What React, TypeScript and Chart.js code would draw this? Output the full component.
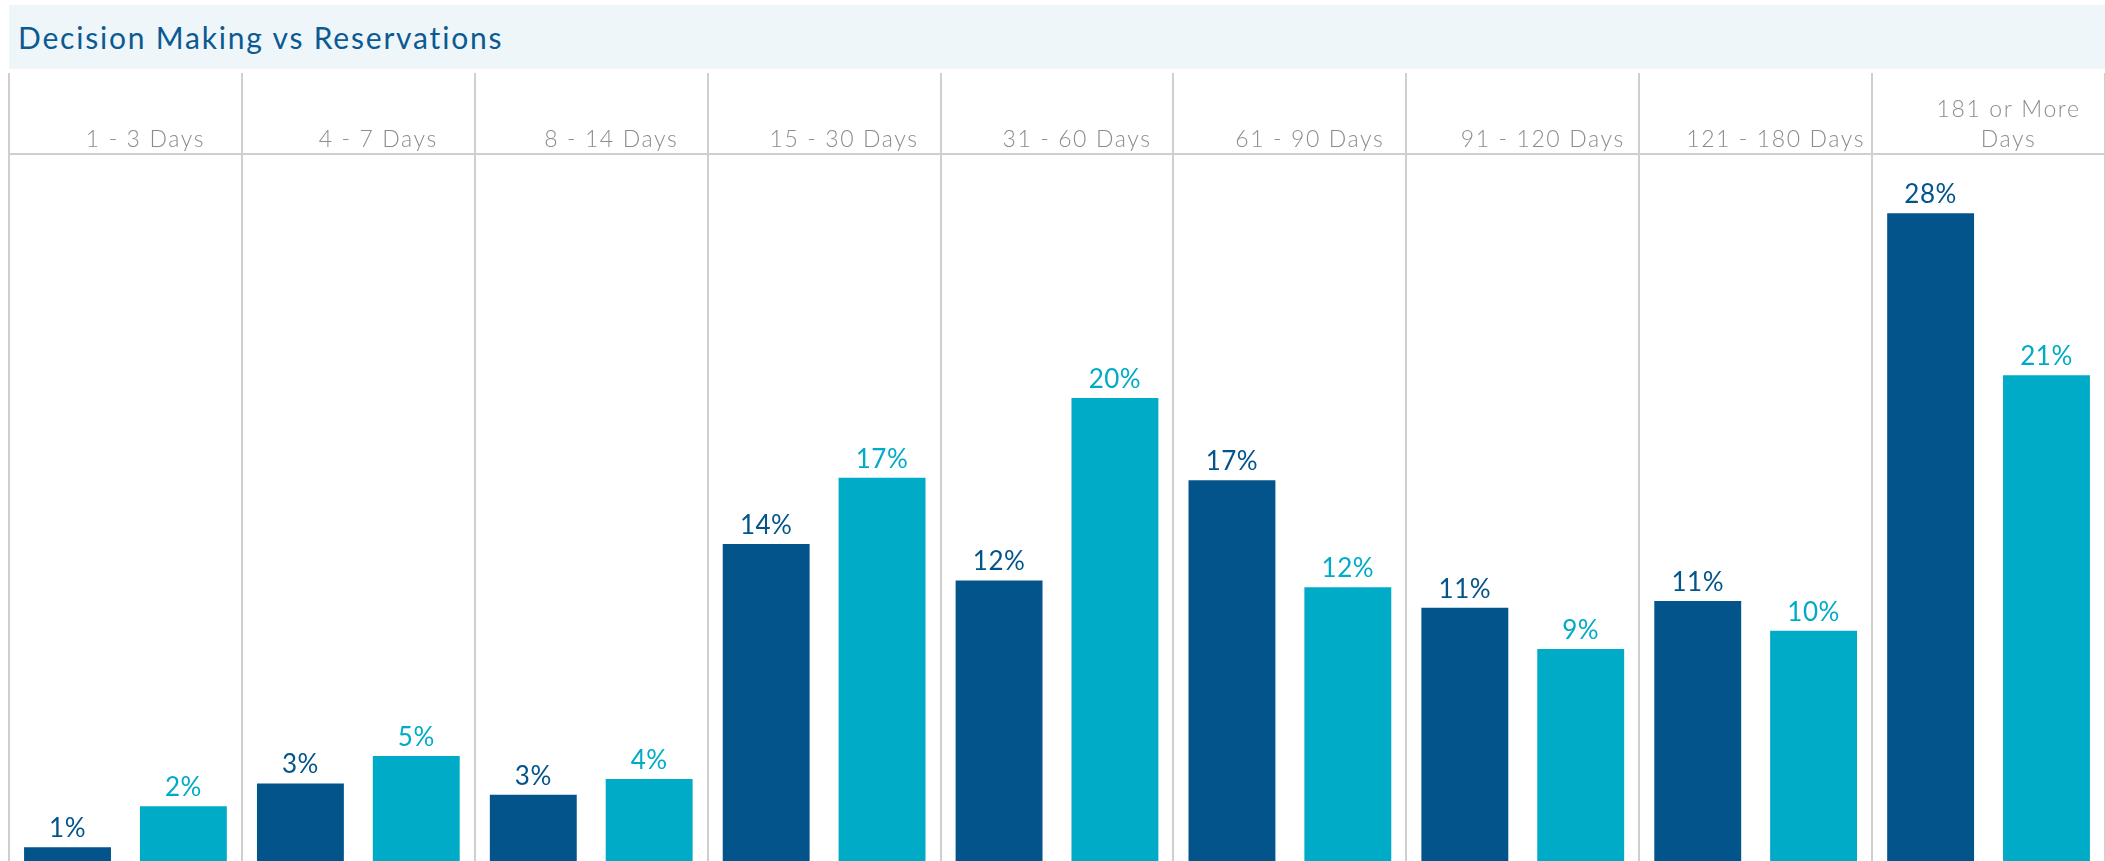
import React, { useEffect, useRef } from "react";
import { Chart, registerables } from "chart.js";

Chart.register(...registerables);

const TITLE = "Decision Making vs Reservations";
const categories: (string | string[])[] = [
  "1 - 3 Days",
  "4 - 7 Days",
  "8 - 14 Days",
  "15 - 30 Days",
  "31 - 60 Days",
  "61 - 90 Days",
  "91 - 120 Days",
  "121 - 180 Days",
  ["181 or More", "Days"],
];
const seriesNames = ["Decision Making", "Reservations"];
const decisionMaking = [0.6, 3.4, 2.9, 13.9, 12.3, 16.7, 11.1, 11.4, 28.4];
const reservations = [2.4, 4.6, 3.6, 16.8, 20.3, 12.0, 9.3, 10.1, 21.3];
const colors = ["#02548B", "#00ABC7"];

const FONT = "Lato, 'Open Sans', sans-serif";

const tickSpacing = {
  id: "tickSpacing",
  beforeDraw(chart: any) {
    chart.ctx.letterSpacing = "1.6px";
  },
};

const valueLabels = {
  id: "valueLabels",
  afterDatasetsDraw(chart: any) {
    const ctx = chart.ctx;
    ctx.save();
    ctx.letterSpacing = "0.5px";
    ctx.font = `400 26px ${FONT}`;
    ctx.textAlign = "center";
    ctx.textBaseline = "alphabetic";
    chart.data.datasets.forEach((ds: any, di: number) => {
      const meta = chart.getDatasetMeta(di);
      ctx.fillStyle = ds.backgroundColor;
      meta.data.forEach((bar: any, i: number) => {
        const v = ds.data[i];
        ctx.fillText(Math.round(v) + "%", bar.x, bar.y - 10);
      });
    });
    ctx.restore();
  },
};

export default function App() {
  const ref = useRef<HTMLCanvasElement>(null);
  useEffect(() => {
    if (!ref.current) return;
    const chart = new Chart(ref.current, {
      type: "bar",
      data: {
        labels: categories,
        datasets: [
          { label: seriesNames[0], data: decisionMaking, backgroundColor: colors[0] },
          { label: seriesNames[1], data: reservations, backgroundColor: colors[1] },
        ],
      },
      options: {
        animation: false,
        responsive: false,
        devicePixelRatio: 1,
        layout: { padding: { left: 9, right: 0, top: 73, bottom: 0 } },
        datasets: { bar: { categoryPercentage: 0.995, barPercentage: 0.75 } },
        plugins: { legend: { display: false }, title: { display: false }, tooltip: { enabled: false } },
        scales: {
          x: {
            position: "top",
            offset: true,
            grid: { offset: true, color: "#cfcfcf", lineWidth: 2, tickLength: 81, drawTicks: true },
            border: { display: true, color: "#cfcfcf", width: 2 },
            ticks: {
              color: "#8c8c8c",
              font: { family: FONT, size: 23, weight: "300", lineHeight: 30 / 23 },
              padding: -82,
              labelOffset: 20,
              maxRotation: 0,
              minRotation: 0,
              autoSkip: false,
            },
            afterFit(scale: any) {
              scale.height = 81;
            },
          },
          y: { display: false, min: 0, max: 31 },
        },
      },
      plugins: [tickSpacing, valueLabels],
    });
    return () => chart.destroy();
  }, []);

  return (
    <div style={{ position: "fixed", left: 0, top: 0, width: 2105, height: 861, background: "#fff", overflow: "hidden" }}>
      <canvas ref={ref} width={2105} height={861} style={{ position: "absolute", left: 0, top: 0, width: 2105, height: 861 }} />
      <div
        style={{
          position: "absolute",
          left: 9,
          top: 5,
          width: 2096,
          height: 64,
          background: "#EEF6FA",
          color: "#0B5A92",
          fontFamily: FONT,
          fontSize: 30,
          letterSpacing: "1.8px",
          lineHeight: "64px",
          paddingLeft: 9,
          boxSizing: "border-box",
          whiteSpace: "nowrap",
        }}
      >
        {TITLE}
      </div>
    </div>
  );
}
